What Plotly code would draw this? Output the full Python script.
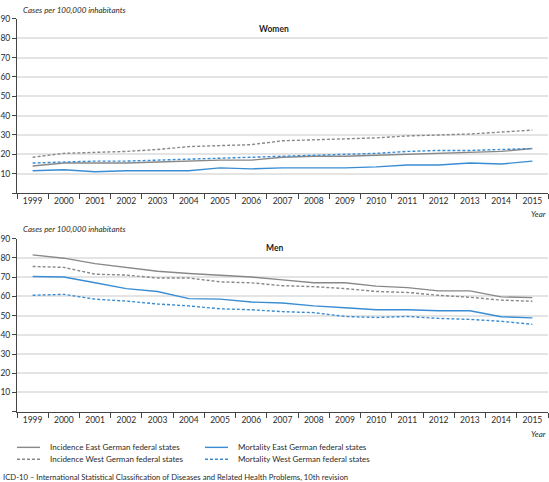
import plotly.graph_objects as go

years = [str(y) for y in range(1999, 2016)]

# Women
w_inc_east = [14, 15.5, 15.5, 15.5, 16, 16.5, 17, 17, 18.5, 19, 19, 19.5, 20, 20.5, 21, 21.5, 23]
w_inc_west = [18.5, 20.5, 21, 21.5, 22.5, 24, 24.5, 25, 27, 27.5, 28, 28.5, 29.5, 30, 30.5, 31.5, 32.5]
w_mort_east = [11.5, 12, 11, 11.5, 11.5, 11.5, 13, 12.5, 13, 13, 13, 13.5, 14.5, 14.5, 15.5, 15, 16.5]
w_mort_west = [15.5, 16, 16.5, 16.5, 17, 17.5, 18, 18.5, 19, 19.5, 20, 20.5, 21.5, 22, 22, 22.5, 23]

# Men
m_inc_east = [81.5, 79.8, 77, 75, 73, 71.8, 71, 70, 68.5, 67, 67, 65.3, 64.5, 62.8, 62.8, 59.7, 59.3]
m_inc_west = [75.5, 75, 71.5, 71, 69.5, 69.5, 67.5, 67, 65.5, 65, 64, 62.5, 62, 60.5, 59.5, 58, 57.4]
m_mort_east = [70.3, 70, 67, 64, 62.5, 58.8, 58.5, 57, 56.5, 55, 54, 53, 53, 52.5, 52.5, 49.4, 48.8]
m_mort_west = [60.5, 61, 58.5, 57.5, 56, 55, 53.5, 53, 52, 51.5, 49.5, 49, 49.5, 48.5, 48, 47, 45.4]

names = ["Incidence East German federal states",
         "Mortality East German federal states",
         "Incidence West German federal states",
         "Mortality West German federal states"]

GRAY = "#888888"
BLUE = "#3a8dd3"
DASH = "3px,2px"
styles = [(GRAY, "solid"), (BLUE, "solid"), (GRAY, DASH), (BLUE, DASH)]

women = [w_inc_east, w_mort_east, w_inc_west, w_mort_west]
men = [m_inc_east, m_mort_east, m_inc_west, m_mort_west]

FONT = "Lato"
TXT = "#2b2b2b"
AX = "#444444"

fig = go.Figure()
for i, (vals, (c, d)) in enumerate(zip(women, styles)):
    fig.add_trace(go.Scatter(x=years, y=vals, mode="lines", name=names[i],
                             line=dict(color=c, dash=d, width=1.4),
                             xaxis="x", yaxis="y", showlegend=False))
for i, (vals, (c, d)) in enumerate(zip(men, styles)):
    fig.add_trace(go.Scatter(x=years, y=vals, mode="lines", name=names[i],
                             line=dict(color=c, dash=d, width=1.4),
                             xaxis="x2", yaxis="y2", showlegend=False))

W, H = 549, 482
def py(p):
    return 1 - p / H
def px(p):
    return p / W

xdom = [px(17), px(548)]
xcommon = dict(type="category", range=[-0.5, 16.5], domain=xdom,
               tickson="boundaries", ticks="outside", ticklen=5, tickcolor=AX,
               showline=True, linecolor=AX, linewidth=1, showgrid=False,
               tickfont=dict(size=8.5, color=TXT, family=FONT), fixedrange=True)
yticks = list(range(0, 100, 10))
ytext = [""] + [str(v) for v in yticks[1:]]
ycommon = dict(range=[0, 90], tickvals=yticks, ticktext=ytext,
               ticks="outside", ticklen=4, tickcolor=AX,
               showline=True, linecolor=AX, linewidth=1,
               showgrid=True, gridcolor="#e4e4e4", gridwidth=1.5,
               zeroline=False, tickfont=dict(size=8.5, color=TXT, family=FONT),
               fixedrange=True)

fig.update_layout(
    width=W, height=H, margin=dict(l=0, r=0, t=0, b=0),
    paper_bgcolor="white", plot_bgcolor="white",
    font=dict(family=FONT, color=TXT),
    showlegend=False,
    xaxis=dict(anchor="y", **xcommon),
    xaxis2=dict(anchor="y2", **xcommon),
    yaxis=dict(anchor="x", domain=[py(190), py(14)], **ycommon),
    yaxis2=dict(anchor="x2", domain=[py(411), py(236)], **ycommon),
)

ann = []
shapes = []
for ytitle, ypanel, label, yyear in [(5, 24, "Women", 211), (226, 246, "Men", 433)]:
    ann.append(dict(text="<i>Cases per 100,000 inhabitants</i>", x=px(21), y=py(ytitle),
                    xref="paper", yref="paper", xanchor="left", yanchor="middle",
                    showarrow=False, font=dict(size=8, color=TXT, family=FONT)))
    ann.append(dict(text="<b>" + label + "</b>", x=px(274), y=py(ypanel),
                    xref="paper", yref="paper", xanchor="center", yanchor="middle",
                    showarrow=False, font=dict(size=8.5, color="#1e1e1e", family=FONT)))
    ann.append(dict(text="<i>Year</i>", x=px(548), y=py(yyear),
                    xref="paper", yref="paper", xanchor="right", yanchor="middle",
                    showarrow=False, font=dict(size=8, color=TXT, family=FONT)))

# legend (2 columns x 2 rows)
leg_pos = [(17, 447), (205, 447), (17, 459), (205, 459)]
for (lx, ly), name, (c, d) in zip(leg_pos, names, styles):
    shapes.append(dict(type="line", xref="paper", yref="paper",
                       x0=px(lx), x1=px(lx + 23), y0=py(ly), y1=py(ly),
                       line=dict(color=c, dash=d, width=1.4)))
    ann.append(dict(text=name, x=px(lx + 31), y=py(ly), xref="paper", yref="paper",
                    xanchor="left", yanchor="middle", showarrow=False,
                    font=dict(size=8, color=TXT, family=FONT)))

ann.append(dict(text="ICD-10 – International Statistical Classification of Diseases and Related Health Problems, 10th revision",
                x=px(1), y=py(477), xref="paper", yref="paper", xanchor="left", yanchor="middle",
                showarrow=False, font=dict(size=7.7, color=TXT, family=FONT)))
fig.update_layout(annotations=ann, shapes=shapes)

fig.write_html("out.html", config={"displayModeBar": False},
               post_script="document.body.style.margin='0';")
